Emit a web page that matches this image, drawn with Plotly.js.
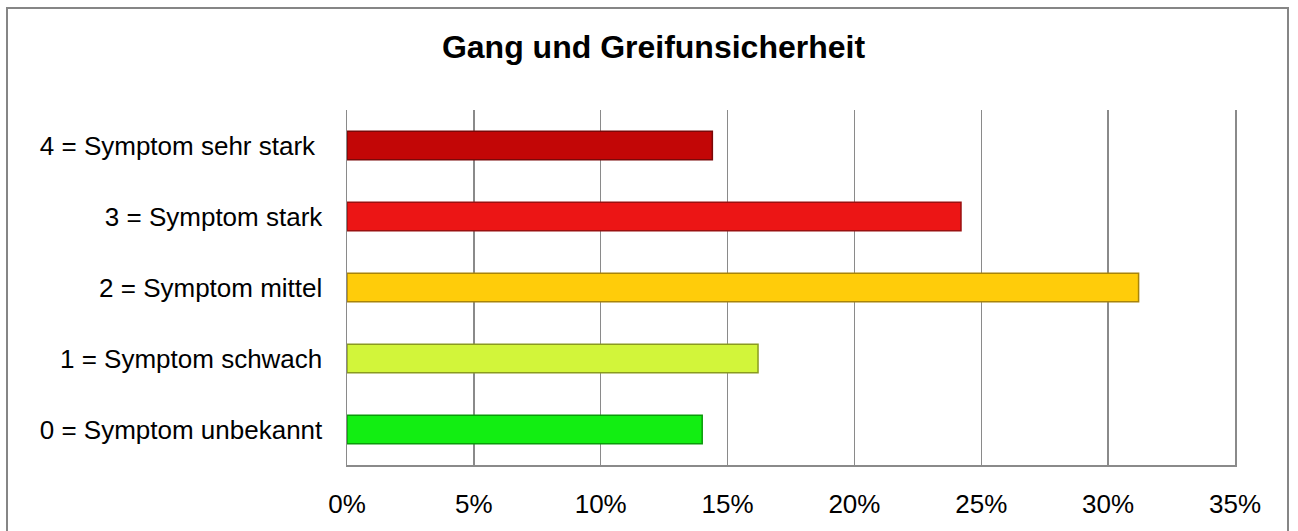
<!DOCTYPE html>
<html>
<head>
<meta charset="utf-8">
<script src="https://cdn.plot.ly/plotly-3.0.1.min.js"></script>
<style>html,body{margin:0;padding:0;background:#fff;}#chart{width:1298px;height:531px;}</style>
</head>
<body>
<div id="chart"></div>
<script>
const categories = [
  "0 = Symptom unbekannt",
  "1 = Symptom schwach",
  "2 = Symptom mittel",
  "3 = Symptom stark",
  "4 = Symptom sehr stark\u00a0"
];
const values = [14.0, 16.2, 31.2, 24.2, 14.4];
const barColors = ["#12ee12", "#d2f53a", "#ffcc0a", "#ec1515", "#c20606"];
const barEdges = ["#0a9a0a", "#8a9a20", "#a8840a", "#9a1010", "#7a0808"];
const tickVals = [0, 5, 10, 15, 20, 25, 30, 35];
const tickText = ["0%", "5%", "10%", "15%", "20%", "25%", "30%", "35%"];
const chartTitle = "Gang und Greifunsicherheit";

const W = 1298, H = 531;
const L = 347, R = 1235, T = 110, B = 465;
const px2x = p => (p - L) / (R - L);
const py2y = p => (B - p) / (B - T);

const font = "Liberation Sans, Arial, sans-serif";

const trace = {
  type: "bar",
  orientation: "h",
  y: categories,
  x: values,
  marker: { color: barColors, line: { color: barEdges, width: 1.5 } },
  hoverinfo: "skip"
};

const layout = {
  width: W, height: H,
  margin: { l: L, r: W - R, t: T, b: H - B, pad: 0 },
  paper_bgcolor: "#ffffff",
  plot_bgcolor: "#ffffff",
  showlegend: false,
  bargap: 0.6,
  font: { family: font, size: 26, color: "#000" },
  title: {
    text: chartTitle,
    font: { family: font, size: 32, color: "#000", weight: "bold" },
    x: 653.5 / W, xref: "container", xanchor: "center",
    y: 1 - 47 / H, yref: "container", yanchor: "middle"
  },
  xaxis: {
    range: [0, 35],
    tickvals: tickVals,
    ticktext: tickText,
    showgrid: true,
    gridcolor: "#8a8a8a",
    gridwidth: 1.5,
    zeroline: false,
    showline: true,
    linecolor: "#8a8a8a",
    linewidth: 1.5,
    mirror: false,
    ticks: "",
    ticklabelstandoff: 15,
    tickfont: { family: font, size: 26, color: "#000" },
    fixedrange: true
  },
  yaxis: {
    type: "category",
    showgrid: false,
    zeroline: false,
    showline: true,
    linecolor: "#8a8a8a",
    linewidth: 1.5,
    mirror: true,
    ticks: "",
    ticklabelstandoff: 18,
    tickfont: { family: font, size: 26, color: "#000" },
    fixedrange: true
  },
  shapes: [{
    type: "rect", xref: "paper", yref: "paper",
    x0: px2x(7), x1: px2x(1288), y0: py2y(540), y1: py2y(8),
    line: { color: "#868686", width: 2 }, fillcolor: "rgba(0,0,0,0)", layer: "below"
  }]
};

Plotly.newPlot("chart", [trace], layout, { staticPlot: true, displayModeBar: false });
</script>
</body>
</html>
